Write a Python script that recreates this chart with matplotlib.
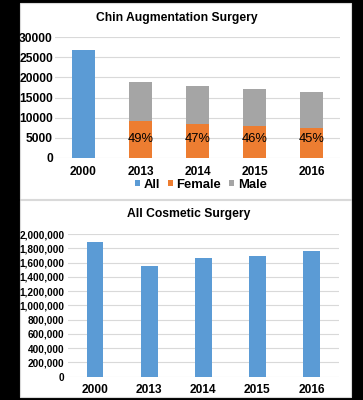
import matplotlib.pyplot as plt
from matplotlib.patches import Rectangle
from matplotlib.ticker import FuncFormatter
import numpy as np

plt.rcParams['font.family'] = ['Liberation Sans', 'DejaVu Sans']

# data
years = ['2000', '2013', '2014', '2015', '2016']
chin_all = [26800, 0, 0, 0, 0]
chin_total = [0, 18900, 17900, 17200, 16400]
female_pct = [0, 49, 47, 46, 45]
female = [t * p / 100 for t, p in zip(chin_total, female_pct)]
male = [t - f for t, f in zip(chin_total, female)]
cosmetic = [1890000, 1550000, 1668000, 1696000, 1762000]

blue = '#5B9BD5'
orange = '#ED7D31'
gray = '#A5A5A5'
grid = '#D9D9D9'

fig = plt.figure(figsize=(3.63, 4.0), dpi=100)
fig.patch.set_facecolor('black')

W, H = 363, 400
def fx(px):
    return px / W
def fy(py):
    return 1 - py / H

# white panels
fig.patches.append(Rectangle((fx(20), fy(199)), fx(331), 196 / H, transform=fig.transFigure,
                             facecolor='white', edgecolor=grid, lw=0.8, zorder=-5))
fig.patches.append(Rectangle((fx(20), fy(397)), fx(331), 197 / H, transform=fig.transFigure,
                             facecolor='white', edgecolor=grid, lw=0.8, zorder=-5))

x = np.arange(len(years))

# top chart
ax1 = fig.add_axes([fx(55), fy(158), fx(285), 121 / H])
ax1.set_zorder(2)
ax1.set_facecolor('none')
ax1.bar(x, chin_all, 0.39, color=blue, label='All', zorder=3)
ax1.bar(x, female, 0.39, color=orange, label='Female', zorder=3)
ax1.bar(x, male, 0.39, bottom=female, color=gray, label='Male', zorder=3)
for i in range(1, len(years)):
    ax1.text(x[i], 4800, f'{female_pct[i]}%', ha='center', va='center',
             fontsize=9.3, color='black', zorder=4)
ax1.set_ylim(0, 30000)
ax1.set_xlim(-0.5, 4.5)
ax1.set_yticks(range(0, 30001, 5000))
ax1.set_xticks(x)
ax1.set_xticklabels(years)
ax1.yaxis.grid(True, color=grid, lw=0.8, zorder=0)
for s in ax1.spines.values():
    s.set_visible(False)
ax1.tick_params(axis='y', length=0, labelsize=8.7, pad=1.5)
ax1.tick_params(axis='x', length=0, labelsize=8.6, pad=6)
for lab in ax1.get_xticklabels() + ax1.get_yticklabels():
    lab.set_fontweight('bold')
fig.text(fx(177), fy(18), 'Chin Augmentation Surgery', ha='center', va='center',
         fontsize=8.7, fontweight='bold')
leg = fig.legend(*ax1.get_legend_handles_labels(), loc='center', bbox_to_anchor=(fx(201), fy(185)),
                 ncol=3, frameon=False, handlelength=0.35, handleheight=0.35,
                 handletextpad=0.3, columnspacing=0.6, prop={'weight': 'bold', 'size': 9.4})

# bottom chart
ax2 = fig.add_axes([fx(68), fy(376.7), fx(270.5), 142.7 / H])
ax2.set_zorder(2)
ax2.set_facecolor('none')
ax2.bar(x, cosmetic, 0.31, color=blue, zorder=3)
ax2.set_ylim(0, 2000000)
ax2.set_xlim(-0.5, 4.5)
ax2.set_yticks(range(0, 2000001, 200000))
ax2.yaxis.set_major_formatter(FuncFormatter(lambda v, p: f'{int(v):,}'))
ax2.set_xticks(x)
ax2.set_xticklabels(years)
ax2.yaxis.grid(True, color=grid, lw=0.8, zorder=0)
for s in ax2.spines.values():
    s.set_visible(False)
ax2.tick_params(axis='y', length=0, labelsize=7.2, pad=2.5)
ax2.tick_params(axis='x', length=0, labelsize=8.6, pad=5)
for lab in ax2.get_xticklabels() + ax2.get_yticklabels():
    lab.set_fontweight('bold')
fig.text(fx(189), fy(214), 'All Cosmetic Surgery', ha='center', va='center',
         fontsize=8.7, fontweight='bold')

fig.savefig('out.png', dpi=100, facecolor=fig.get_facecolor())
